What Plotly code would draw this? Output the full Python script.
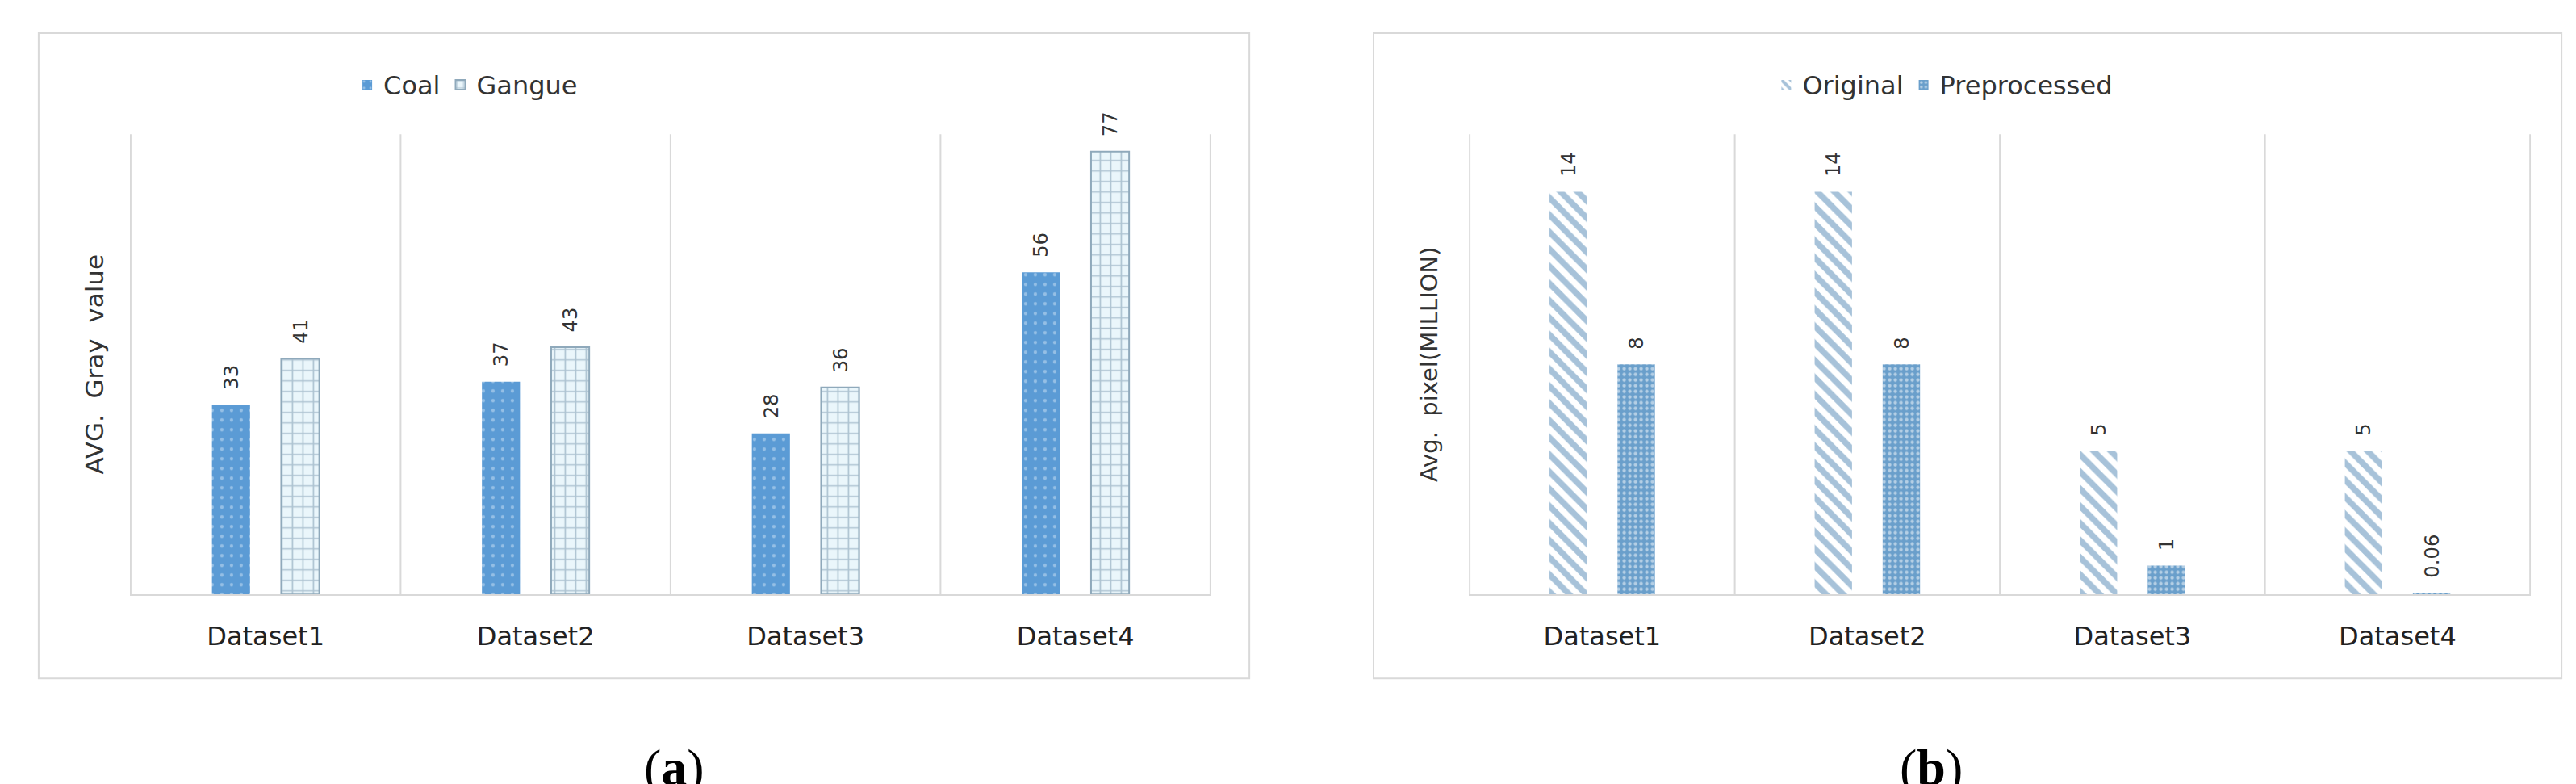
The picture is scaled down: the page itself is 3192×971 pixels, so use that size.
import plotly.graph_objects as go
from plotly.subplots import make_subplots

# --- data ---
datasets = ["Dataset1", "Dataset2", "Dataset3", "Dataset4"]
coal = [33, 37, 28, 56]
gangue = [41, 43, 36, 77]
original = [14, 14, 5, 5]
preprocessed = [8, 8, 1, 0.06]
original_txt = ["14", "14", "5", "5"]
preprocessed_txt = ["8", "8", "1", "0.06"]

W, H = 3192, 971
FONT = "DejaVu Sans"
LBL = dict(family=FONT, size=31, color="#333")


def lab(vals):
    # leading spaces leave a gap between bar top and rotated label
    return ["  " + str(v) for v in vals]


fig = make_subplots(rows=1, cols=2)

fig.add_trace(go.Bar(
    x=datasets, y=coal, name="Coal", text=lab(coal), cliponaxis=False,
    textposition="outside", textangle=-90, textfont=LBL, legend="legend",
    marker=dict(color="#5B9BD5", line=dict(width=0),
                pattern=dict(shape=".", fgcolor="#cfe3f5", bgcolor="#5B9BD5", size=12, solidity=0.1)),
), row=1, col=1)
fig.add_trace(go.Bar(
    x=datasets, y=gangue, name="Gangue", text=lab(gangue), cliponaxis=False,
    textposition="outside", textangle=-90, textfont=LBL, legend="legend",
    marker=dict(color="#eaf6fb", line=dict(width=2, color="#8fa9bb"),
                pattern=dict(shape="+", fgcolor="#6f8fa7", bgcolor="#eaf6fb", size=13, solidity=0.25)),
), row=1, col=1)

fig.add_trace(go.Bar(
    x=datasets, y=original, name="Original", text=lab(original_txt), cliponaxis=False,
    textposition="outside", textangle=-90, textfont=LBL, legend="legend2",
    marker=dict(color="white", line=dict(width=0),
                pattern=dict(shape="\\", fgcolor="#4f86b3", bgcolor="white", size=15, solidity=0.5)),
), row=1, col=2)
fig.add_trace(go.Bar(
    x=datasets, y=preprocessed, name="Preprocessed", text=lab(preprocessed_txt), cliponaxis=False,
    textposition="outside", textangle=-90, textfont=LBL, legend="legend2",
    marker=dict(color="#6a9fcb", line=dict(width=0),
                pattern=dict(shape=".", fgcolor="white", bgcolor="#6a9fcb", size=7, solidity=0.3)),
), row=1, col=2)

ydom = [0.25, 0.837]
axis_x = dict(showgrid=False, showline=True, linecolor="#d9d9d9", linewidth=2,
              ticks="", ticklabelstandoff=22,
              tickfont=dict(family=FONT, size=32, color="#222"), fixedrange=True)
axis_y = dict(showgrid=False, showticklabels=False, zeroline=False, ticks="", domain=ydom)

fig.update_xaxes(axis_x)
fig.update_xaxes(domain=[0.0479, 0.4677], row=1, col=1)
fig.update_xaxes(domain=[0.5677, 0.98], row=1, col=2)
fig.update_yaxes(axis_y)
fig.update_yaxes(range=[0, 80], row=1, col=1,
                 title=dict(text="AVG.  Gray  value", font=dict(family=FONT, size=31, color="#333"), standoff=22))
fig.update_yaxes(range=[0, 16], row=1, col=2,
                 title=dict(text="Avg.  pixel(MILLION)", font=dict(family=FONT, size=29, color="#333"), standoff=28))

shapes = []
# category separators
for xr in ["x", "x2"]:
    for i in range(len(datasets) + 1):
        shapes.append(dict(type="line", xref=xr, yref="paper", x0=i - 0.5, x1=i - 0.5,
                           y0=ydom[0], y1=ydom[1], line=dict(color="#d9d9d9", width=2)))
# panel frames
for x0, x1 in [(0.0125, 0.4825), (0.5307, 0.9919)]:
    shapes.append(dict(type="rect", xref="paper", yref="paper", x0=x0, x1=x1, y0=0.143, y1=0.966,
                       line=dict(color="#d9d9d9", width=2), fillcolor="rgba(0,0,0,0)"))

leg = dict(orientation="h", yanchor="middle", y=0.9, xanchor="center",
           font=dict(family=FONT, size=32, color="#333"), bgcolor="rgba(0,0,0,0)",
           itemwidth=30, tracegroupgap=0)

fig.update_layout(
    width=W, height=H, margin=dict(l=0, r=0, t=0, b=0),
    paper_bgcolor="white", plot_bgcolor="white",
    barmode="group", bargap=0.487, bargroupgap=0.45,
    legend=dict(leg, x=0.1786),
    legend2=dict(leg, x=0.752),
    shapes=shapes,
    annotations=[
        dict(text="(<b>a</b>)", x=0.247, y=0.068, xref="paper", yref="paper", yanchor="top", showarrow=False,
             font=dict(family="Liberation Serif", size=64, color="black")),
        dict(text="(<b>b</b>)", x=0.760, y=0.068, xref="paper", yref="paper", yanchor="top", showarrow=False,
             font=dict(family="Liberation Serif", size=64, color="black")),
    ],
    uniformtext=dict(minsize=20, mode="show"),
)

fig.write_html("out.html")
